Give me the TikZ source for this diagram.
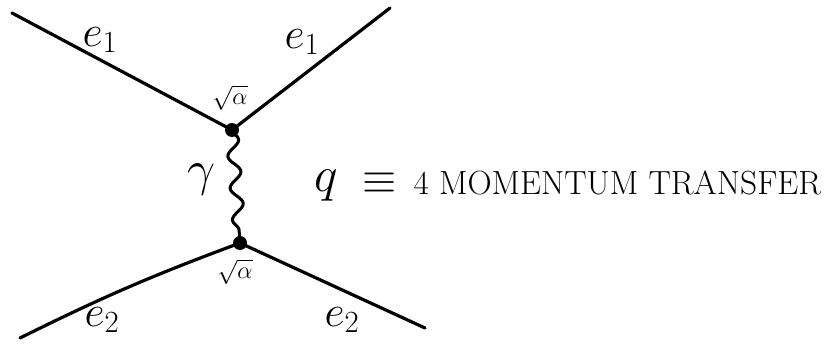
\RequirePackage{fix-cm}
\documentclass[tikz,border=0pt]{standalone}
\usetikzlibrary{decorations.pathmorphing}
\begin{document}
\begin{tikzpicture}[x=1pt,y=-1pt,
  fermion/.style={line width=3.2pt,line cap=round},
  photon/.style={line width=3pt,decorate,decoration={snake,amplitude=6pt,segment length=32pt}},
  vtx/.style={circle,fill=black,inner sep=0pt,minimum size=14pt},
  lbl/.style={font=\fontsize{44}{50}\selectfont},
  big/.style={font=\fontsize{50}{56}\selectfont},
  cpl/.style={font=\fontsize{24}{28}\selectfont},
  txt/.style={font=\fontsize{33.5}{40}\selectfont,anchor=west}]
\useasboundingbox (0,0) rectangle (826,345);
\node[vtx] (v1) at (232,130) {};
\node[vtx] (v2) at (240,243) {};
\coordinate (a) at (12,13);
\coordinate (b) at (390,8);
\coordinate (c) at (20,338);
\coordinate (d) at (425,328);
\draw[fermion] (a) -- (v1.center);
\draw[fermion] (v1.center) -- (b);
\draw[fermion] (c) to[bend left=3] (v2.center);
\draw[fermion] (v2.center) -- (d);
\draw[photon] (v1.center) -- (v2.center);
\node[lbl] (e1a) at (100,40) {$e_1$};
\node[lbl] (e1b) at (302,42) {$e_1$};
\node[lbl] (e2a) at (102,320) {$e_2$};
\node[lbl] (e2b) at (342,320) {$e_2$};
\node[cpl] (ca) at (230,98) {$\sqrt{\alpha}$};
\node[cpl] (cb) at (235,272) {$\sqrt{\alpha}$};
\node[big] (g) at (202,180) {$\gamma$};
\node[big] (q) at (326,186) {$q$};
\node[lbl] (eq) at (380,183) {$\equiv$};
\node[txt] (t) at (410,183) {4 MOMENTUM TRANSFER};
\end{tikzpicture}
\end{document}
